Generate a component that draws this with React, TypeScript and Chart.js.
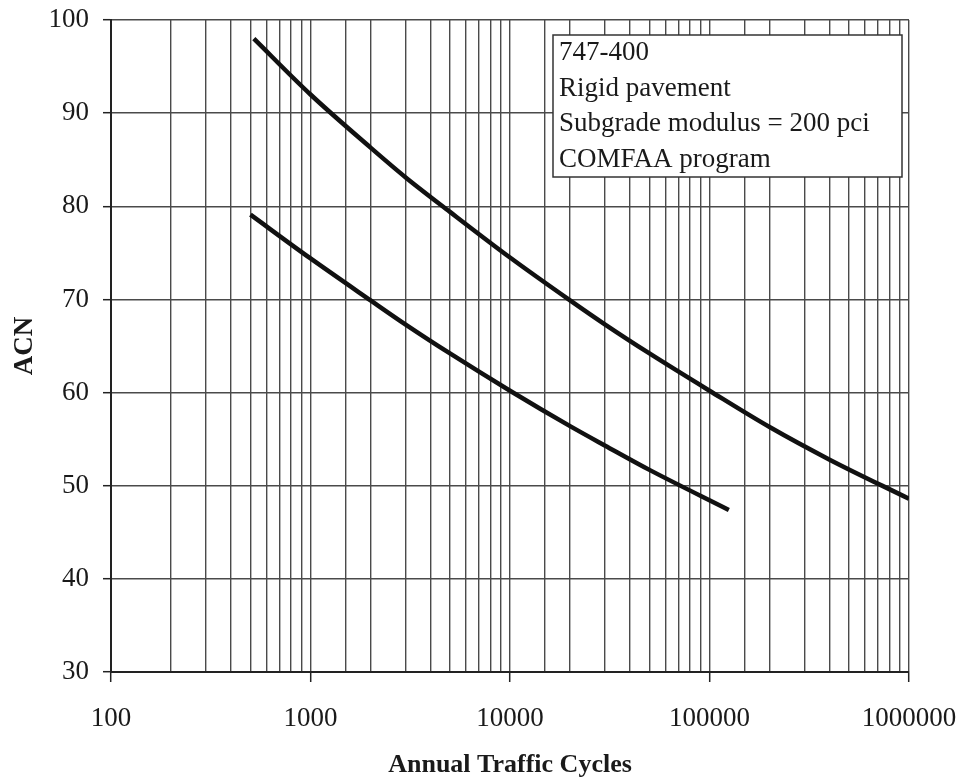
import React, { useEffect, useRef } from "react";
import { Chart, registerables } from "chart.js";
Chart.register(...registerables);

const upperCycles = [520, 1000, 2000, 3000, 5000, 10000, 20000, 30000, 50000, 100000, 200000, 400000, 1000000];
const upperACN = [98.0, 92.0, 86.3, 83.1, 79.4, 74.5, 69.9, 67.3, 64.2, 60.2, 56.3, 52.8, 48.6];
const lowerCycles = [500, 1000, 2000, 3000, 5000, 10000, 20000, 30000, 50000, 125000];
const lowerACN = [79.1, 74.4, 69.9, 67.3, 64.2, 60.2, 56.4, 54.3, 51.7, 47.4];
const noteLines = ["747-400", "Rigid pavement", "Subgrade modulus = 200 pci", "COMFAA program"];
const xTitle = "Annual Traffic Cycles";
const yTitle = "ACN";

const SERIF = "'Liberation Serif', 'Times New Roman', serif";

const isDecade = (v: number) => {
  const l = Math.log10(v);
  return Math.abs(l - Math.round(l)) < 1e-9;
};

const notePlugin = {
  id: "noteBox",
  afterDraw(chart: any) {
    const { ctx, chartArea } = chart;
    const left = chartArea.left + 442;
    const right = chartArea.right - 7;
    const top = chartArea.top + 15;
    const height = 142;
    ctx.save();
    ctx.fillStyle = "#ffffff";
    ctx.fillRect(left, top, right - left, height);
    ctx.strokeStyle = "#333";
    ctx.lineWidth = 1.5;
    ctx.strokeRect(left, top, right - left, height);
    ctx.fillStyle = "#1a1a1a";
    ctx.font = `27px ${SERIF}`;
    ctx.textBaseline = "middle";
    ctx.textAlign = "left";
    noteLines.forEach((t, i) => {
      ctx.fillText(t, left + 6, top + 18 + i * 35.7);
    });
    ctx.restore();
  },
};

export default function App() {
  const ref = useRef<HTMLCanvasElement>(null);
  useEffect(() => {
    if (!ref.current) return;
    const chart = new Chart(ref.current, {
      type: "line",
      data: {
        datasets: [
          {
            data: upperCycles.map((x, i) => ({ x, y: upperACN[i] })),
            borderColor: "#111",
            borderWidth: 4.5,
            pointRadius: 0,
            cubicInterpolationMode: "monotone",
            fill: false,
          },
          {
            data: lowerCycles.map((x, i) => ({ x, y: lowerACN[i] })),
            borderColor: "#111",
            borderWidth: 4.5,
            pointRadius: 0,
            cubicInterpolationMode: "monotone",
            fill: false,
          },
        ],
      },
      options: {
        responsive: false,
        animation: false,
        devicePixelRatio: 1,
        layout: { padding: { top: 20, right: 53, left: 0, bottom: 0 } },
        plugins: { legend: { display: false }, tooltip: { enabled: false } },
        scales: {
          x: {
            type: "logarithmic",
            min: 100,
            max: 1000000,
            afterFit: (s: any) => {
              s.height = 106;
              s.paddingLeft = 0;
              s.paddingRight = 0;
            },
            grid: {
              color: "#4a4a4a",
              lineWidth: 1.4,
              tickLength: 10,
              tickColor: (c: any) => (c.tick && isDecade(c.tick.value) ? "#222" : "rgba(0,0,0,0)"),
              tickWidth: 1.5,
            },
            border: { display: true, color: "#222", width: 2 },
            ticks: {
              autoSkip: false,
              maxRotation: 0,
              minRotation: 0,
              padding: 21,
              color: "#1a1a1a",
              font: { family: SERIF, size: 27 },
              callback: (v: any) => (isDecade(Number(v)) ? String(Math.round(Number(v))) : ""),
            },
            title: {
              display: true,
              text: xTitle,
              color: "#1a1a1a",
              font: { family: SERIF, size: 26, weight: "bold", lineHeight: 1 },
              padding: { top: 0, bottom: 0 },
            },
          },
          y: {
            min: 30,
            max: 100,
            afterFit: (s: any) => {
              s.width = 111;
              s.paddingTop = 0;
              s.paddingBottom = 0;
            },
            grid: {
              color: "#4a4a4a",
              lineWidth: 1.4,
              tickLength: 8,
              tickColor: "#222",
              tickWidth: 1.5,
            },
            border: { display: true, color: "#222", width: 2 },
            ticks: {
              stepSize: 10,
              padding: 14,
              color: "#1a1a1a",
              font: { family: SERIF, size: 27 },
            },
            title: {
              display: true,
              text: yTitle,
              color: "#1a1a1a",
              font: { family: SERIF, size: 27, weight: "bold", lineHeight: 1 },
              padding: { top: 12, bottom: 0 },
            },
          },
        },
      },
      plugins: [notePlugin],
    } as any);
    return () => chart.destroy();
  }, []);
  return (
    <div style={{ position: "absolute", left: 0, top: 0, width: 962, height: 778, background: "#fff" }}>
      <canvas ref={ref} width={962} height={778} style={{ width: 962, height: 778, display: "block" }} />
    </div>
  );
}
